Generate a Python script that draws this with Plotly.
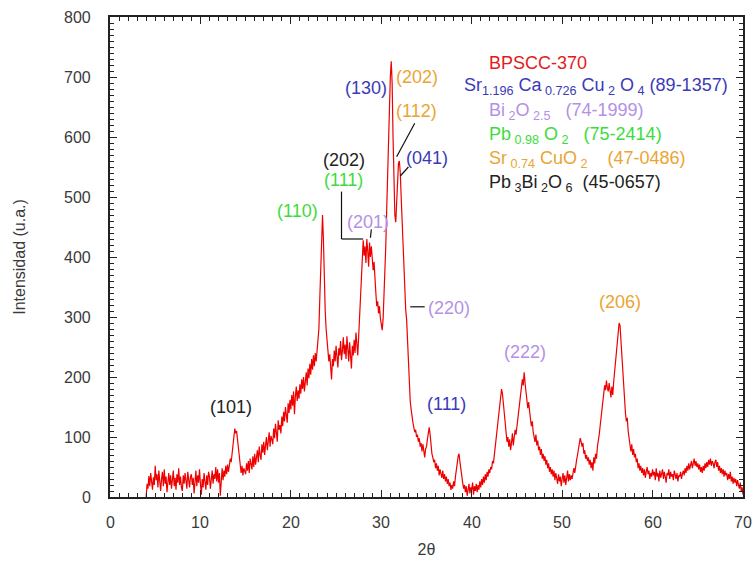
import numpy as np
import plotly.graph_objects as go

# Diffraction pattern sampled every 0.1 degree from 4 to 70 (2-theta);
# each row below covers one degree.
two_theta = np.round(np.arange(4.0, 70.0001, 0.1), 1)
intensity = [
    0, 22, 14, 35, 18, 40, 26, 12, 33, 20,            # 4
    52, 28, 38, 16, 44, 24, 10, 30, 42, 18,           # 5
    46, 22, 34, 8, 28, 40, 20, 36, 14, 30,            # 6
    44, 18, 32, 12, 38, 24, 48, 20, 34, 16,           # 7
    10, 36, 22, 40, 26, 14, 42, 30, 16, 34,           # 8
    38, 20, 32, 6, 28, 44, 18, 36, 24, 46,            # 9
    22, 4, 30, 16, 40, 26, 12, 36, 20, 42,            # 10
    34, 14, 28, 44, 22, 38, 30, 50, 26, 46,           # 11
    24, 40, 2, 36, 48, 28, 44, 34, 52, 38,            # 12
    54, 42, 50, 64, 58, 76, 92, 100, 114, 106,        # 13
    110, 96, 84, 70, 56, 40, 52, 36, 48, 42,          # 14
    38, 56, 44, 60, 40, 64, 52, 46, 68, 50,           # 15
    72, 54, 66, 78, 58, 84, 70, 62, 88, 74,           # 16
    92, 70, 86, 100, 78, 94, 108, 84, 102, 96,        # 17
    88, 114, 98, 122, 104, 92, 128, 112, 120, 106,    # 18
    134, 118, 142, 126, 150, 132, 124, 156, 140, 162, # 19
    146, 170, 152, 176, 138, 168, 184, 160, 178, 164, # 20
    188, 172, 196, 180, 200, 176, 194, 208, 186, 214, # 21
    198, 222, 204, 230, 212, 236, 218, 240, 226, 244, # 22
    250, 280, 330, 390, 450, 470, 430, 360, 310, 280, # 23
    262, 248, 226, 238, 212, 196, 230, 218, 244, 226, # 24
    252, 232, 216, 248, 236, 260, 228, 244, 266, 238, # 25
    254, 230, 268, 246, 226, 258, 240, 214, 252, 236, # 26
    262, 240, 274, 250, 236, 268, 300, 330, 372, 396, # 27
    428, 402, 418, 390, 430, 410, 384, 424, 400, 418, # 28
    398, 378, 392, 356, 340, 318, 326, 306, 318, 298, # 29
    284, 278, 296, 330, 372, 420, 480, 540, 600, 660, # 30
    700, 726, 690, 600, 520, 470, 458, 500, 540, 556, # 31
    560, 540, 500, 460, 420, 380, 340, 312, 296, 260, # 32
    220, 180, 160, 146, 130, 124, 116, 108, 112, 100, # 33
    104, 92, 98, 84, 90, 76, 88, 72, 66, 80,          # 34
    84, 96, 110, 116, 104, 86, 72, 66, 58, 62,        # 35
    48, 56, 44, 52, 36, 46, 40, 32, 44, 30,           # 36
    38, 26, 34, 22, 30, 18, 24, 12, 20, 14,           # 37
    26, 18, 34, 42, 56, 68, 72, 58, 44, 30,           # 38
    24, 14, 20, 8, 18, 2, 14, 22, 6, 16,              # 39
    12, 24, 4, 18, 10, 22, 8, 20, 12, 26,             # 40
    16, 30, 20, 34, 24, 38, 28, 42, 34, 46,           # 41
    40, 50, 46, 60, 56, 70, 78, 90, 104, 118,         # 42
    132, 150, 166, 180, 172, 156, 136, 118, 104, 92,  # 43
    100, 84, 96, 78, 90, 106, 86, 98, 112, 104,       # 44
    118, 128, 140, 154, 166, 178, 196, 186, 208, 190, # 45
    172, 160, 148, 158, 138, 130, 118, 126, 108, 100, # 46
    92, 104, 86, 94, 78, 84, 70, 80, 64, 72,          # 47
    60, 68, 54, 62, 48, 56, 42, 50, 38, 46,           # 48
    34, 44, 28, 40, 30, 22, 38, 26, 34, 18,           # 49
    30, 40, 24, 36, 20, 34, 44, 26, 38, 28,           # 50
    36, 30, 42, 48, 40, 56, 62, 70, 80, 88,           # 51
    98, 92, 84, 90, 72, 78, 64, 70, 60, 66,           # 52
    54, 62, 48, 58, 44, 66, 56, 72, 64, 84,           # 53
    92, 104, 118, 130, 146, 158, 172, 186, 178, 194,  # 54
    182, 176, 190, 172, 166, 184, 170, 192, 210, 232, # 55
    246, 262, 278, 290, 286, 260, 230, 200, 172, 150, # 56
    140, 126, 132, 110, 96, 84, 76, 88, 70, 80,       # 57
    66, 72, 58, 64, 48, 56, 44, 52, 40, 48,           # 58
    36, 46, 32, 42, 50, 38, 44, 30, 40, 34,           # 59
    46, 36, 42, 28, 48, 34, 40, 26, 44, 32,           # 60
    38, 46, 30, 42, 34, 24, 40, 36, 46, 30,           # 61
    42, 34, 38, 28, 44, 36, 30, 40, 26, 36,           # 62
    34, 42, 30, 38, 44, 36, 48, 40, 52, 44,           # 63
    56, 46, 52, 60, 48, 58, 64, 52, 60, 50,           # 64
    56, 46, 54, 42, 50, 40, 52, 44, 56, 48,           # 65
    58, 50, 62, 54, 64, 52, 60, 56, 48, 58,           # 66
    62, 50, 58, 44, 52, 40, 48, 38, 46, 34,           # 67
    44, 36, 40, 28, 38, 30, 42, 26, 34, 22,           # 68
    32, 24, 30, 18, 28, 20, 14, 24, 10, 16,           # 69
    4,                                                # 70
]

x_ticks = [0, 10, 20, 30, 40, 50, 60, 70]
y_ticks = [0, 100, 200, 300, 400, 500, 600, 700, 800]

# Phase colours
RED = "#e21b1b"
BLUE = "#3a3ab8"
LILAC = "#b490e6"
GREEN = "#3cdc3c"
ORANGE = "#eba532"
DARK = "#222222"
AXIS_TEXT = "#3a3a3a"

# Miller-index labels: (text, x, y, colour)
hkl_labels = [
    ("(101)", 13.4, 150, DARK),
    ("(110)", 20.7, 477, GREEN),
    ("(202)", 25.9, 562, DARK),
    ("(111)", 25.8, 528, GREEN),
    ("(201)", 28.5, 458, LILAC),
    ("(130)", 28.3, 682, BLUE),
    ("(202)", 33.9, 700, ORANGE),
    ("(112)", 33.9, 643, ORANGE),
    ("(041)", 35.0, 565, BLUE),
    ("(220)", 37.5, 315, LILAC),
    ("(111)", 37.2, 155, BLUE),
    ("(222)", 45.9, 242, LILAC),
    ("(206)", 56.4, 325, ORANGE),
]

# Phase key: (text, x-left, y, colour)
phase_key = [
    ("BPSCC-370", 41.7, 724, RED),
    ("Sr<sub>1.196</sub> Ca<sub> 0.726</sub> Cu<sub> 2</sub> O<sub> 4</sub> (89-1357)", 38.9, 684, BLUE),
    ("Bi<sub> 2</sub>O<sub> 2.5</sub>   (74-1999)", 41.7, 643, LILAC),
    ("Pb<sub> 0.98</sub> O<sub> 2</sub>   (75-2414)", 41.7, 602, GREEN),
    ("Sr<sub> 0.74</sub> CuO<sub> 2</sub>    (47-0486)", 41.7, 562, ORANGE),
    ("Pb<sub> 3</sub>Bi<sub> 2</sub>O<sub> 6</sub>  (45-0657)", 41.7, 523, DARK),
]

# Leader lines from labels to peaks: (x0, y0, x1, y1) in data units
leaders = [
    (25.6, 509, 25.6, 430),
    (25.6, 430, 28.0, 430),
    (28.9, 446, 28.8, 432),
    (33.7, 623, 31.7, 567),
    (33.0, 550, 32.1, 535),
    (33.2, 317, 34.8, 317),
]

FONT = "Liberation Sans, Arial, sans-serif"

fig = go.Figure()
fig.add_trace(go.Scatter(
    x=two_theta, y=intensity, mode="lines",
    line=dict(color="#ee0000", width=1.2),
    showlegend=False, hoverinfo="skip",
))

for text, x, y, col in hkl_labels:
    fig.add_annotation(x=x, y=y, text=text, showarrow=False,
                       xanchor="center", yanchor="middle",
                       font=dict(family=FONT, size=18, color=col))

for text, x, y, col in phase_key:
    fig.add_annotation(x=x, y=y, text=text, showarrow=False,
                       xanchor="left", yanchor="middle",
                       font=dict(family=FONT, size=18, color=col))

# Tick labels, set a little further from the frame than plotly's default
tick_font = dict(family=FONT, size=16, color=AXIS_TEXT)
for v in x_ticks:
    fig.add_annotation(x=v, xref="x", y=0, yref="paper", text=str(v),
                       showarrow=False, xanchor="center", yanchor="top",
                       yshift=-15, font=tick_font)
for v in y_ticks:
    fig.add_annotation(x=0, xref="paper", y=v, yref="y", text=str(v),
                       showarrow=False, xanchor="right", yanchor="middle",
                       xshift=-17, font=tick_font)

for x0, y0, x1, y1 in leaders:
    fig.add_shape(type="line", xref="x", yref="y", x0=x0, y0=y0, x1=x1, y1=y1,
                  line=dict(color="#111111", width=1.2))

axis_common = dict(
    showline=True, linecolor="#222222", linewidth=1.5, mirror="allticks",
    ticks="inside", ticklen=7, tickwidth=1.3, tickcolor="#222222",
    showgrid=False, zeroline=False, automargin=False, showticklabels=False,
    title_font=dict(family=FONT, size=16, color=AXIS_TEXT),
)

fig.update_xaxes(
    range=[0, 70], tickmode="array", tickvals=x_ticks,
    minor=dict(ticks="inside", ticklen=4, tickmode="linear", tick0=0, dtick=1,
               tickcolor="#222222", tickwidth=1),
    title_text="2θ", title_standoff=46, **axis_common,
)
fig.update_yaxes(
    range=[0, 800], tickmode="array", tickvals=y_ticks,
    minor=dict(ticks="inside", ticklen=4, tickmode="linear", tick0=0, dtick=10,
               tickcolor="#222222", tickwidth=1),
    title_text="Intensidad (u.a.)", title_standoff=79, **axis_common,
)

fig.update_layout(
    width=755, height=565,
    margin=dict(l=110, r=12, t=17, b=68),
    plot_bgcolor="white", paper_bgcolor="white",
    font=dict(family=FONT),
)

fig.write_html("out.html")
